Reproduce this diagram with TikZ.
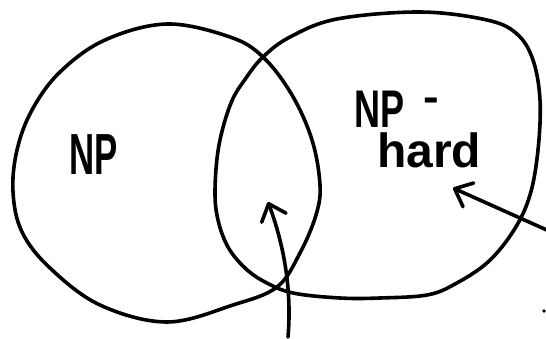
\documentclass[tikz,border=0pt]{standalone}
\usepackage{fontspec}
\setmainfont{Liberation Sans}
\usetikzlibrary{arrows.meta}
\tikzset{
  pen/.style={line width=3.6pt, line cap=round, line join=round},
  handarrow/.style={pen, -{Straight Barb[length=15pt,width=26pt,round]}},
  lbl/.style={inner sep=0pt, anchor=base west, font=\bfseries}
}
\begin{document}
\begin{tikzpicture}[x=1pt,y=-1pt]
\useasboundingbox (0,0) rectangle (546,339);
% left set (NP)
\draw[pen] plot[smooth cycle, tension=0.6] coordinates {
 (167,24) (230,37) (263,57) (292,95) (312,140) (320,185) (316,215) (300,253)
 (277,287) (233,305) (167,322) (100,305) (50,268) (22,232) (13,192) (17,150)
 (32,110) (60,72) (105,40)};
% right set (NP-hard)
\draw[pen] plot[smooth cycle, tension=0.6] coordinates {
 (263,57) (290,37) (337,19) (420,12) (487,20) (517,34) (533,60) (540,100)
 (538,150) (530,195) (514,230) (488,262) (455,284) (427,295) (380,298)
 (340,298) (293,293) (265,282) (245,268) (228,247) (218,220) (215,190)
 (219,145) (231,103) (246,78)};
% labels
\node[lbl] (np) at (69,175) {\scalebox{0.6}[1]{\fontsize{58}{58}\selectfont NP}};
\node[lbl] (nph1) at (354,128) {\scalebox{0.68}[1]{\fontsize{53}{53}\selectfont NP\hspace{28pt}\raisebox{16pt}{\scalebox{1.3}[0.8]{-}}}};
\node[lbl] (nph2) at (377,168) {\scalebox{1.0}[1]{\fontsize{48}{48}\selectfont hard}};
% arrows
\coordinate (a1s) at (288,337);
\coordinate (a1e) at (268,202);
\coordinate (a2s) at (549,231);
\coordinate (a2e) at (453,188);
\draw[handarrow] (a1s) .. controls (292,290) and (284,245) .. (a1e);
\draw[handarrow] (a2s) -- (a2e);
% small dot
\coordinate (dot) at (544,311);
\fill (dot) circle (1.8pt);
\end{tikzpicture}
\end{document}
